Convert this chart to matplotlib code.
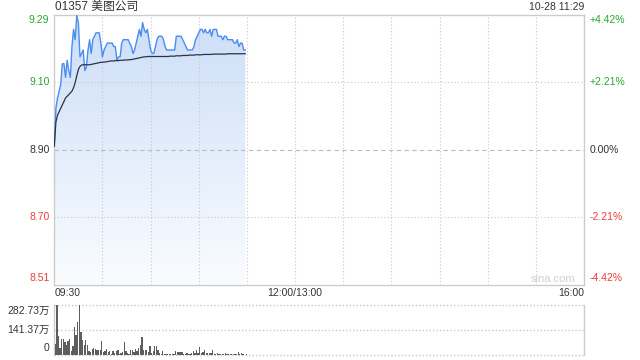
import numpy as np
import matplotlib.pyplot as plt
from matplotlib.patches import Polygon
import matplotlib.transforms as mtransforms

plt.rcParams['font.family'] = ['Liberation Sans', 'Noto Sans CJK SC', 'DejaVu Sans']

title = "01357 美图公司"
stamp = "10-28 11:29"
prev_close = 8.90
pct_max = 4.42

# one value per minute, 09:30 .. 11:29
price = [
    8.91, 9.02, 9.05, 9.07, 9.09, 9.15, 9.15, 9.11, 9.16, 9.13,
    9.11, 9.20, 9.25, 9.22, 9.29, 9.27, 9.17, 9.18, 9.19, 9.13,
    9.14, 9.19, 9.22, 9.18, 9.22, 9.23, 9.24, 9.24, 9.24, 9.21,
    9.17, 9.19, 9.20, 9.21, 9.21, 9.21, 9.21, 9.20, 9.20, 9.16,
    9.17, 9.17, 9.21, 9.22, 9.22, 9.22, 9.22, 9.21, 9.20, 9.18,
    9.19, 9.21, 9.23, 9.25, 9.23, 9.27, 9.25, 9.24, 9.25, 9.22,
    9.19, 9.18, 9.18, 9.20, 9.22, 9.23, 9.23, 9.23, 9.22, 9.20,
    9.19, 9.19, 9.19, 9.19, 9.19, 9.19, 9.23, 9.23, 9.23, 9.23,
    9.22, 9.21, 9.20, 9.19, 9.19, 9.19, 9.19, 9.20, 9.22, 9.23,
    9.24, 9.25, 9.25, 9.24, 9.25, 9.24, 9.24, 9.25, 9.23, 9.25,
    9.25, 9.25, 9.23, 9.23, 9.23, 9.22, 9.23, 9.23, 9.22, 9.22,
    9.22, 9.22, 9.21, 9.21, 9.22, 9.20, 9.21, 9.21, 9.19, 9.19,
]
avg_price = [
    8.910, 8.980, 9.000, 9.010, 9.020, 9.030, 9.040, 9.050, 9.055, 9.060,
    9.065, 9.070, 9.080, 9.095, 9.115, 9.133, 9.142, 9.146, 9.147, 9.147,
    9.147, 9.147, 9.147, 9.148, 9.149, 9.150, 9.151, 9.152, 9.153, 9.154,
    9.154, 9.155, 9.155, 9.156, 9.157, 9.158, 9.158, 9.158, 9.159, 9.159,
    9.159, 9.160, 9.160, 9.160, 9.161, 9.161, 9.161, 9.162, 9.162, 9.163,
    9.164, 9.165, 9.166, 9.167, 9.168, 9.169, 9.170, 9.170, 9.171, 9.171,
    9.171, 9.171, 9.171, 9.171, 9.171, 9.171, 9.171, 9.171, 9.171, 9.171,
    9.171, 9.171, 9.172, 9.172, 9.172, 9.172, 9.173, 9.173, 9.173, 9.173,
    9.174, 9.174, 9.174, 9.174, 9.175, 9.175, 9.175, 9.175, 9.176, 9.176,
    9.176, 9.176, 9.176, 9.177, 9.177, 9.177, 9.177, 9.177, 9.177, 9.178,
    9.178, 9.178, 9.178, 9.178, 9.178, 9.178, 9.178, 9.178, 9.179, 9.179,
    9.179, 9.179, 9.179, 9.179, 9.179, 9.179, 9.179, 9.179, 9.179, 9.179,
]
# volume in 万 shares
volume = [
    60, 282.73, 104, 38, 89, 89, 74, 57, 79, 89,
    19, 47, 157, 113, 185, 279, 128, 85, 57, 81,
    53, 19, 15, 32, 38, 32, 28, 28, 25, 79,
    15, 23, 32, 15, 19, 4, 19, 9, 19, 26,
    6, 10, 15, 74, 19, 9, 4, 25, 25, 13,
    32, 19, 38, 53, 100, 25, 28, 25, 13, 51,
    9, 19, 47, 51, 25, 9, 4, 23, 6, 4,
    2, 4, 4, 6, 2, 23, 13, 15, 15, 15,
    6, 4, 9, 6, 4, 9, 23, 9, 25, 9,
    43, 9, 15, 26, 9, 9, 9, 9, 26, 6,
    6, 9, 4, 6, 4, 4, 9, 6, 6, 4,
    4, 4, 4, 6, 13, 4, 9, 2, 1, 2,
]
vol_ticks = [0, 141.37, 282.73]
vol_labels = ["0", "141.37万", "282.73万"]
pct_levels = [4.42, 2.21, 0.0, -2.21, -4.42]
price_labels = ["9.29", "9.10", "8.90", "8.70", "8.51"]
pct_labels = ["+4.42%", "+2.21%", "0.00%", "-2.21%", "-4.42%"]
level_colors = ["#2aa52a", "#2aa52a", "#333333", "#f03c3c", "#f03c3c"]
time_labels = ["09:30", "12:00/13:00", "16:00"]
total_minutes = 330

GRID = "#c8c8c8"
FRAME = "#cccccc"

fig = plt.figure(figsize=(6.4, 3.6), dpi=100)
ax = fig.add_axes([54.3 / 640, 1 - 284.5 / 360, 529.7 / 640, 270 / 360])
axv = fig.add_axes([54.3 / 640, 1 - 354.7 / 360, 529.7 / 640, 50 / 360])

ymin = prev_close * (1 - pct_max / 100)
ymax = prev_close * (1 + pct_max / 100)
minutes = np.arange(len(price))

ax.set_xlim(0, total_minutes)
ax.set_ylim(ymin, ymax)

# gradient fill under price line
verts = [(0, ymin)] + list(zip(minutes, price)) + [(minutes[-1], ymin)]
poly = Polygon(verts, closed=True, facecolor="none", edgecolor="none")
ax.add_patch(poly)
grad = np.linspace(0, 1, 256).reshape(-1, 1)
top_c = np.array([0.80, 0.87, 0.97])
bot_c = np.array([0.98, 0.99, 1.0])
img = top_c * (1 - grad[..., None]) + bot_c * grad[..., None]
im = ax.imshow(img, extent=[0, minutes[-1], ymin, max(price)], origin="upper",
               aspect="auto", zorder=1)
im.set_clip_path(poly)

# grid
for m in range(30, total_minutes, 30):
    ax.axvline(m, color=GRID, lw=0.8, ls=(0, (1, 2)), zorder=2)
for p in [2.21, -2.21]:
    ax.axhline(prev_close * (1 + p / 100), color=GRID, lw=0.8, ls=(0, (1, 2)), zorder=2)
ax.axhline(prev_close, color="#bbbbbb", lw=0.8, ls=(0, (4, 3)), zorder=2)

ax.plot(minutes, price, color="#4a8cf0", lw=1.0, zorder=4)
ax.plot(minutes, avg_price, color="#2b3245", lw=0.9, zorder=5)

ax.set_xticks([])
ax.set_yticks([])
for s in ax.spines.values():
    s.set_color(FRAME)
    s.set_linewidth(1.0)

# side labels
offsets = [-4.0, 0, 0, 0, 5.0]
for p, pl, cl, c, dy in zip(pct_levels, price_labels, pct_labels, level_colors, offsets):
    yv = prev_close * (1 + p / 100)
    ax.annotate(pl, xy=(0, yv), xycoords=("axes fraction", "data"),
                xytext=(-3.5, dy), textcoords="offset points",
                ha="right", va="center", fontsize=7.5, color=c)
    ax.annotate(cl, xy=(1, yv), xycoords=("axes fraction", "data"),
                xytext=(4, dy), textcoords="offset points",
                ha="left", va="center", fontsize=7.5, color=c)

fig.text(55 / 640, 1 - 7 / 360, title, ha="left", va="center",
         fontsize=8.5, color="#333333")
fig.text(584 / 640, 1 - 7.5 / 360, stamp, ha="right", va="center",
         fontsize=7.5, color="#333333")
fig.text(553 / 640, 1 - 279 / 360, "sina.com", ha="center", va="center",
         fontsize=8, color="#d0d0d0")

# time labels
trans = mtransforms.blended_transform_factory(ax.transData, ax.transAxes)
ax.text(0.5, -8.5 / 270, time_labels[0], transform=trans, ha="left", va="center",
        fontsize=7.5, color="#333333")
ax.text(150, -8.5 / 270, time_labels[1], transform=trans, ha="center", va="center",
        fontsize=7.5, color="#333333")
ax.text(total_minutes, -8.5 / 270, time_labels[2], transform=trans, ha="right", va="center",
        fontsize=7.5, color="#333333")

# volume panel
axv.set_xlim(0, total_minutes)
axv.set_ylim(0, vol_ticks[-1])
axv.bar(minutes + 0.6, volume, width=0.8, color="#5e5e5e", zorder=3)
for v in vol_ticks:
    axv.axhline(v, color=GRID, lw=1.0, ls=(0, (1, 1.5)), zorder=1, clip_on=False)
axv.set_xticks([])
axv.set_yticks([])
for k in ["top", "bottom"]:
    axv.spines[k].set_visible(False)
for k in ["left", "right"]:
    axv.spines[k].set_color(FRAME)
    axv.spines[k].set_linewidth(1.0)
vol_offsets = [4.8, 0, -4.5]
for v, lab, dy in zip(vol_ticks, vol_labels, vol_offsets):
    axv.annotate(lab, xy=(0, v), xycoords=("axes fraction", "data"),
                 xytext=(-3.5, dy), textcoords="offset points",
                 ha="right", va="center", fontsize=7.5, color="#333333")

fig.savefig("out.png", dpi=100)
